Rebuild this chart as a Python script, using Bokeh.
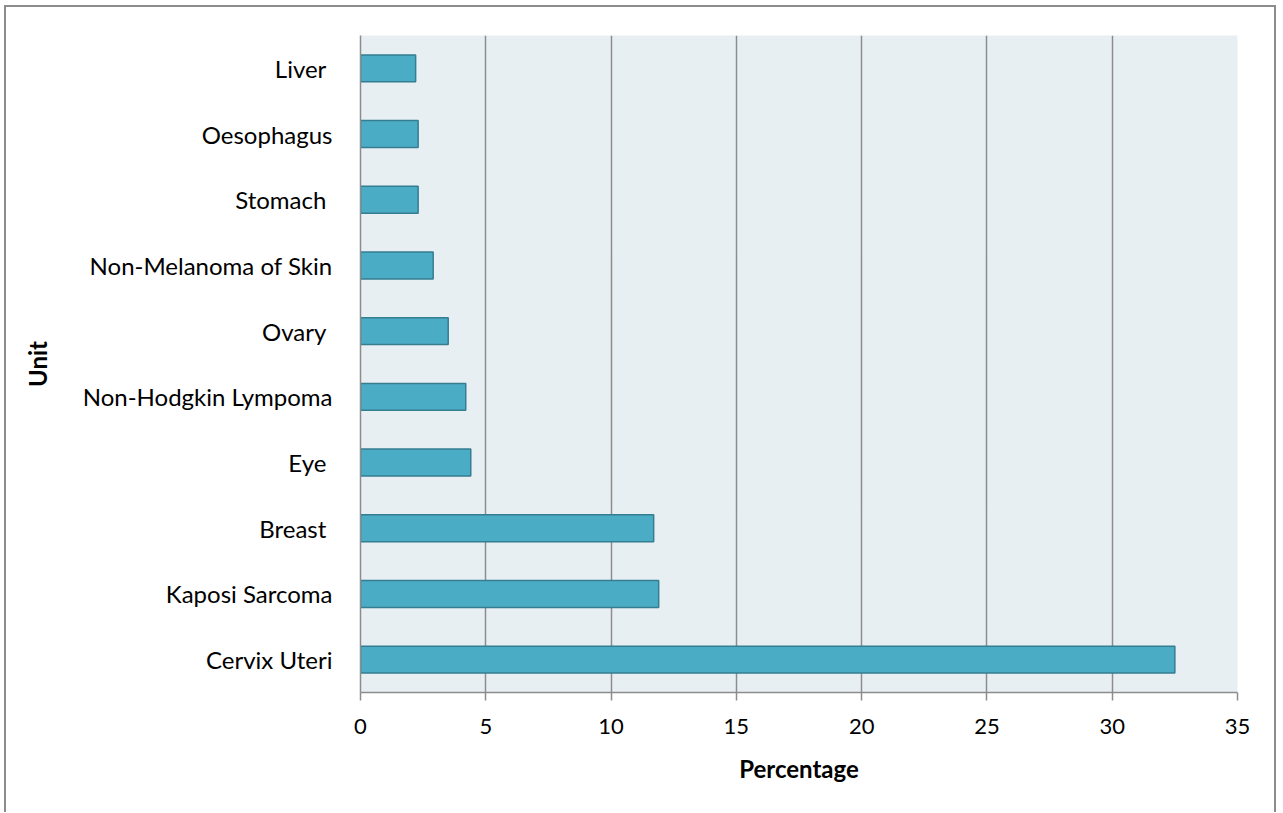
from bokeh.plotting import figure
from bokeh.embed import file_html
from bokeh.resources import INLINE
from bokeh.models import ColumnDataSource, FixedTicker, Range1d

categories = ["Cervix Uteri", "Kaposi Sarcoma", "Breast ", "Eye ", "Non-Hodgkin Lympoma",
              "Ovary ", "Non-Melanoma of Skin", "Stomach ", "Oesophagus", "Liver "]
values = [32.5, 11.9, 11.7, 4.4, 4.2, 3.5, 2.9, 2.3, 2.3, 2.2]
x_ticks = [0, 5, 10, 15, 20, 25, 30, 35]

src = ColumnDataSource(dict(cat=categories, val=values))

FONT = "Lato"
GRAY = "#8c8c8c"

p = figure(y_range=categories, x_range=Range1d(0, 35),
           width=1272, height=807, output_backend="svg", toolbar_location=None,
           min_border_left=354, min_border_right=41, min_border_top=28, min_border_bottom=122)
p.styles = {"position": "absolute", "left": "4px", "top": "5px",
            "border-left": "2px solid #8c8c8c", "border-top": "2px solid #8c8c8c",
            "border-right": "2px solid #8c8c8c"}

p.hbar(y="cat", right="val", left=0, height=0.41, source=src,
       fill_color="#4bacc6", line_color="#357d91", line_width=1.5)

p.background_fill_color = "#e8eff3"
p.border_fill_color = "white"
p.outline_line_color = None

p.xgrid.grid_line_color = GRAY
p.xgrid.grid_line_width = 1.5
p.ygrid.grid_line_color = None

p.xaxis.ticker = FixedTicker(ticks=x_ticks)
p.xaxis.axis_line_color = GRAY
p.xaxis.axis_line_width = 1.5
p.xaxis.major_tick_line_color = GRAY
p.xaxis.major_tick_line_width = 1.5
p.xaxis.major_tick_out = 8
p.xaxis.major_tick_in = 0
p.xaxis.minor_tick_line_color = None
p.xaxis.major_label_text_font = FONT
p.xaxis.major_label_text_font_size = "22px"
p.xaxis.major_label_text_color = "black"
p.xaxis.major_label_standoff = 18
p.xaxis.axis_label = "Percentage"
p.xaxis.axis_label_text_font = FONT
p.xaxis.axis_label_text_font_style = "bold"
p.xaxis.axis_label_text_font_size = "24px"
p.xaxis.axis_label_text_color = "black"
p.xaxis.axis_label_standoff = 17

p.yaxis.axis_line_color = GRAY
p.yaxis.axis_line_width = 1.5
p.yaxis.major_tick_line_color = None
p.yaxis.minor_tick_line_color = None
p.yaxis.major_label_text_font = FONT
p.yaxis.major_label_text_font_size = "24px"
p.yaxis.major_label_text_color = "black"
p.yaxis.major_label_standoff = 22
p.yaxis.axis_label = "Unit"
p.yaxis.axis_label_text_font = FONT
p.yaxis.axis_label_text_font_style = "bold"
p.yaxis.axis_label_text_font_size = "24px"
p.yaxis.axis_label_text_color = "black"
p.yaxis.axis_label_standoff = 28

open("out.html", "w").write(file_html(p, INLINE))
